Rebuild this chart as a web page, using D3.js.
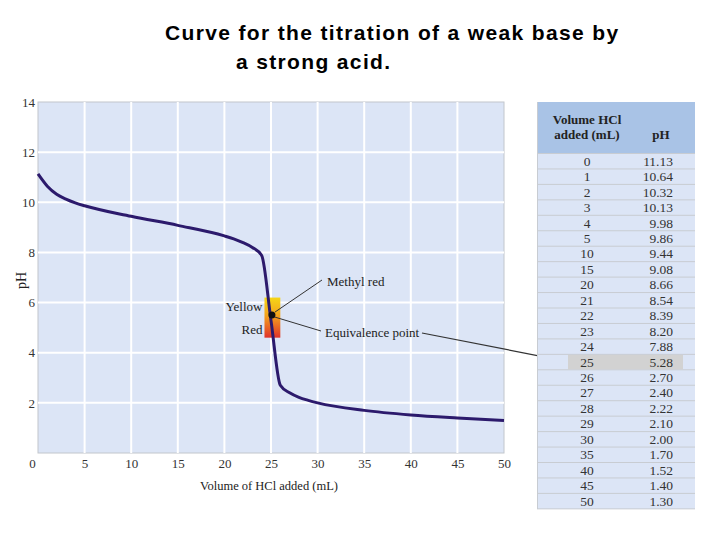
<!DOCTYPE html>
<html>
<head>
<meta charset="utf-8">
<script src="https://cdn.jsdelivr.net/npm/d3@7"></script>
<style>
  body { margin: 0; background: #fff; }
  svg text { font-family: "Liberation Serif", "DejaVu Serif", serif; }
</style>
</head>
<body>
<div id="chart"></div>
<script>
// titration data (also shown in the table)
var volumes = [0, 1, 2, 3, 4, 5, 10, 15, 20, 21, 22, 23, 24, 25, 26, 27, 28, 29, 30, 35, 40, 45, 50];
var phValues = [11.13, 10.64, 10.32, 10.13, 9.98, 9.86, 9.44, 9.08, 8.66, 8.54, 8.39, 8.20, 7.88, 5.28, 2.70, 2.40, 2.22, 2.10, 2.00, 1.70, 1.52, 1.40, 1.30];
var phLabels = ["11.13", "10.64", "10.32", "10.13", "9.98", "9.86", "9.44", "9.08", "8.66", "8.54", "8.39", "8.20", "7.88", "5.28", "2.70", "2.40", "2.22", "2.10", "2.00", "1.70", "1.52", "1.40", "1.30"];
var xTicks = [0, 5, 10, 15, 20, 25, 30, 35, 40, 45, 50];
var yTicks = [2, 4, 6, 8, 10, 12, 14];
var indicatorVol = [24.3, 26.0];
var indicatorPh = [4.6, 6.2];
var equivPoint = [25.1, 5.5];
var highlightVol = 25;

var W = 720, H = 540;
var margin = {top: 102, right: 216, bottom: 87, left: 38},
    width = W - margin.left - margin.right,
    height = H - margin.top - margin.bottom;

var svg = d3.select("#chart").append("svg")
    .attr("width", W)
    .attr("height", H);

// title
var title = svg.append("text")
    .style("font-family", "'Liberation Sans', Arial, sans-serif")
    .style("font-size", "21px")
    .style("font-weight", "bold")
    .style("letter-spacing", "1.35px")
    .attr("fill", "#000");
title.append("tspan").attr("x", 165).attr("y", 40).text("Curve for the titration of a weak base by");
title.append("tspan").attr("x", 236).attr("y", 69).text("a strong acid.");

var x = d3.scaleLinear().domain([0, 50]).range([0, width]);
var y = d3.scaleLinear().domain([0, 14]).range([height, 0]);

var g = svg.append("g")
    .attr("transform", "translate(" + margin.left + "," + margin.top + ")");

var defs = svg.append("defs");
var grad = defs.append("linearGradient")
    .attr("id", "indGrad")
    .attr("x1", 0).attr("y1", 0).attr("x2", 0).attr("y2", 1);
grad.append("stop").attr("offset", "0%").attr("stop-color", "#f5d617");
grad.append("stop").attr("offset", "45%").attr("stop-color", "#f3a21d");
grad.append("stop").attr("offset", "100%").attr("stop-color", "#e0322a");

// plot background
g.append("rect")
    .attr("width", width)
    .attr("height", height)
    .attr("fill", "#dce5f6")
    .attr("stroke", "#c2c6cc")
    .attr("stroke-width", 1);

// gridlines
g.append("g")
    .selectAll("line")
    .data(xTicks.slice(1, -1))
    .enter().append("line")
    .attr("x1", function(d) { return x(d); })
    .attr("x2", function(d) { return x(d); })
    .attr("y1", 0).attr("y2", height)
    .attr("stroke", "#fff").attr("stroke-width", 2);

g.append("g")
    .selectAll("line")
    .data(yTicks.slice(0, -1))
    .enter().append("line")
    .attr("y1", function(d) { return y(d); })
    .attr("y2", function(d) { return y(d); })
    .attr("x1", 0).attr("x2", width)
    .attr("stroke", "#fff").attr("stroke-width", 2);

// axes (labels only)
var xAxis = d3.axisBottom(x).tickValues(xTicks).tickSize(0).tickPadding(6);
var yAxis = d3.axisLeft(y).tickValues(yTicks).tickSize(0).tickPadding(3);

var gx = g.append("g")
    .attr("transform", "translate(0," + height + ")")
    .call(xAxis);
gx.select(".domain").remove();
gx.selectAll("text")
    .style("font-family", "'Liberation Serif', serif")
    .style("font-size", "13px")
    .attr("fill", "#333");
gx.selectAll(".tick").filter(function(d) { return d === 0; })
    .select("text").attr("x", -6);

var gy = g.append("g").call(yAxis);
gy.select(".domain").remove();
gy.selectAll("text")
    .style("font-family", "'Liberation Serif', serif")
    .style("font-size", "13px")
    .attr("fill", "#333");

svg.append("text")
    .attr("x", margin.left + x(25) - 2)
    .attr("y", 490)
    .attr("text-anchor", "middle")
    .style("font-size", "12.5px")
    .attr("fill", "#222")
    .text("Volume of HCl added (mL)");

svg.append("text")
    .attr("transform", "translate(26," + (margin.top + y(7) + 3) + ") rotate(-90)")
    .attr("text-anchor", "middle")
    .style("font-size", "14px")
    .attr("fill", "#222")
    .text("pH");

// indicator range
g.append("rect")
    .attr("x", x(indicatorVol[0]))
    .attr("y", y(indicatorPh[1]))
    .attr("width", x(indicatorVol[1]) - x(indicatorVol[0]))
    .attr("height", y(indicatorPh[0]) - y(indicatorPh[1]))
    .attr("fill", "url(#indGrad)");

// titration curve
var data = volumes.map(function(v, i) { return {vol: v, ph: phValues[i]}; });
var line = d3.line()
    .x(function(d) { return x(d.vol); })
    .y(function(d) { return y(d.ph); })
    .curve(d3.curveMonotoneX);

g.append("path")
    .datum(data)
    .attr("fill", "none")
    .attr("stroke", "#2c1a6c")
    .attr("stroke-width", 3)
    .attr("d", line);

// equivalence point
var ex = x(equivPoint[0]), ey = y(equivPoint[1]);
g.append("circle")
    .attr("cx", ex).attr("cy", ey).attr("r", 3.5)
    .attr("fill", "#111");

g.append("text")
    .attr("x", x(indicatorVol[0]) - 2).attr("y", y(indicatorPh[1]) + 13)
    .attr("text-anchor", "end")
    .style("font-size", "13px").attr("fill", "#222")
    .text("Yellow");
g.append("text")
    .attr("x", x(indicatorVol[0]) - 2).attr("y", y(indicatorPh[0]) - 4)
    .attr("text-anchor", "end")
    .style("font-size", "13px").attr("fill", "#222")
    .text("Red");

// leader lines
g.append("line")
    .attr("x1", ex + 3).attr("y1", ey - 3)
    .attr("x2", 284).attr("y2", 178)
    .attr("stroke", "#333").attr("stroke-width", 1);
g.append("text")
    .attr("x", 289).attr("y", 184)
    .style("font-size", "13px").attr("fill", "#222")
    .text("Methyl red");

g.append("line")
    .attr("x1", ex + 3).attr("y1", ey + 2)
    .attr("x2", 283).attr("y2", 229)
    .attr("stroke", "#333").attr("stroke-width", 1);
g.append("text")
    .attr("x", 287).attr("y", 235)
    .style("font-size", "13px").attr("fill", "#222")
    .text("Equivalence point");

// table
var tx = 538, tw = 157, headH = 51, rowH = 15.45, ty = 102;
var rowY = function(i) { return ty + headH + i * rowH; };
var hiIndex = volumes.indexOf(highlightVol);

svg.append("line")
    .attr("x1", 422).attr("y1", 231 + margin.top)
    .attr("x2", 573).attr("y2", rowY(hiIndex) + rowH / 2 + 1)
    .attr("stroke", "#333").attr("stroke-width", 1.2);

var tbl = svg.append("g");
tbl.append("rect")
    .attr("x", tx - 1).attr("y", ty)
    .attr("width", tw + 1).attr("height", headH + volumes.length * rowH + 1)
    .attr("fill", "#c8ccd2");
tbl.append("rect")
    .attr("x", tx).attr("y", ty)
    .attr("width", tw).attr("height", headH)
    .attr("fill", "#a9c3e6");

var hdr = tbl.append("text")
    .attr("text-anchor", "middle")
    .style("font-size", "13px")
    .style("font-weight", "bold")
    .attr("fill", "#222");
hdr.append("tspan").attr("x", 587).attr("y", 124).text("Volume HCl");
hdr.append("tspan").attr("x", 587).attr("y", 139).text("added (mL)");
tbl.append("text")
    .attr("x", 661).attr("y", 139)
    .attr("text-anchor", "middle")
    .style("font-size", "13px").style("font-weight", "bold")
    .attr("fill", "#222")
    .text("pH");

var rows = tbl.selectAll(".row")
    .data(volumes)
    .enter().append("g")
    .attr("class", "row");

rows.append("rect")
    .attr("x", tx).attr("y", function(d, i) { return rowY(i) + 1; })
    .attr("width", tw).attr("height", rowH - 1)
    .attr("fill", "#dce5f6");

rows.filter(function(d) { return d === highlightVol; })
    .append("rect")
    .attr("x", 568).attr("y", function() { return rowY(hiIndex) + 1; })
    .attr("width", 115).attr("height", rowH - 1)
    .attr("fill", "#d2d2d2");

rows.append("text")
    .attr("x", 587)
    .attr("y", function(d, i) { return rowY(i) + rowH / 2 + 5; })
    .attr("text-anchor", "middle")
    .style("font-size", "13.5px")
    .attr("fill", "#333")
    .text(function(d) { return d; });

rows.append("text")
    .attr("x", 673)
    .attr("y", function(d, i) { return rowY(i) + rowH / 2 + 5; })
    .attr("text-anchor", "end")
    .style("font-size", "13.5px")
    .attr("fill", "#333")
    .text(function(d, i) { return phLabels[i]; });
</script>
</body>
</html>
